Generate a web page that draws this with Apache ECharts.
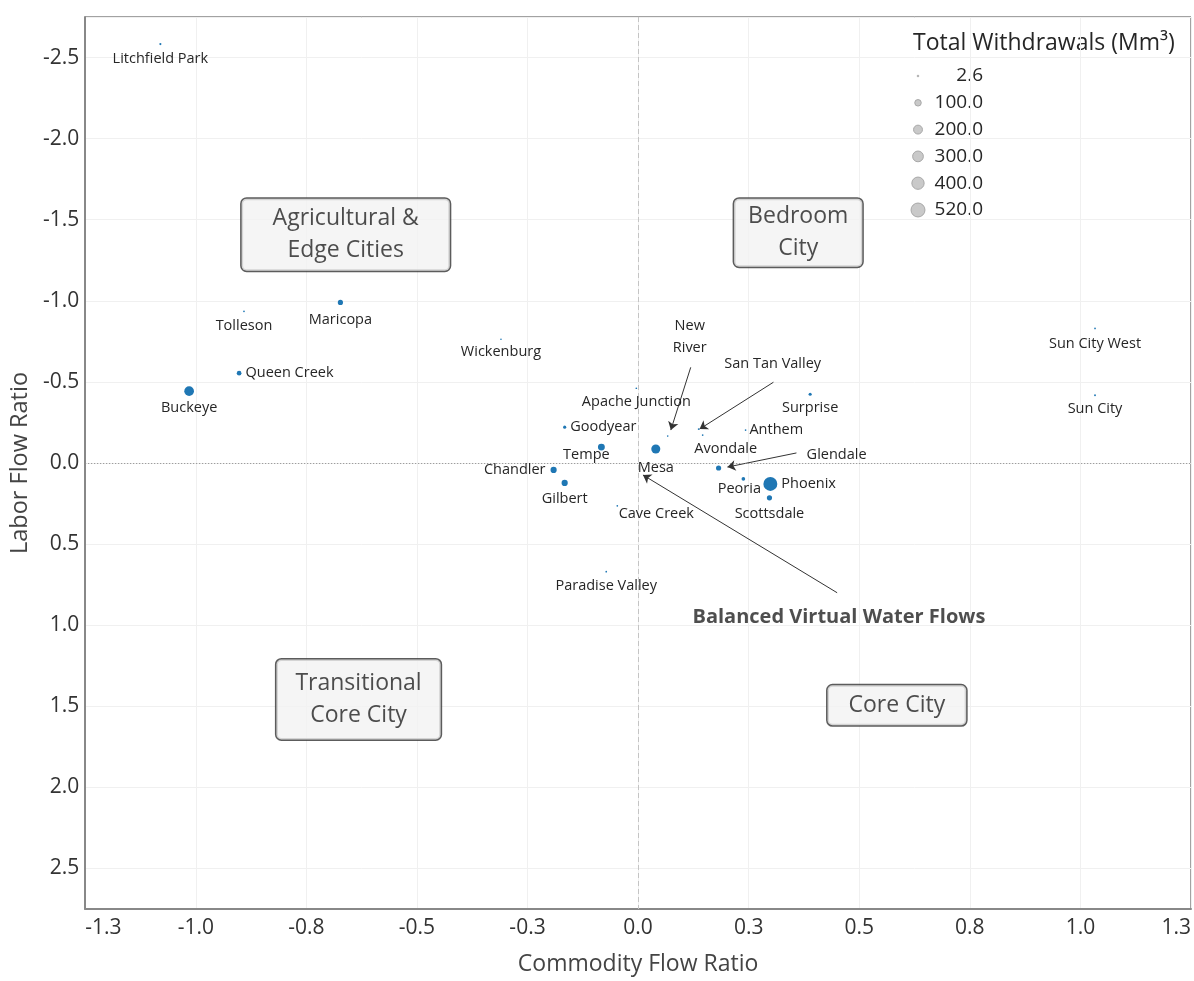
<!DOCTYPE html>
<html>
<head>
<meta charset="utf-8">
<script src="https://cdn.jsdelivr.net/npm/echarts@6/dist/echarts.min.js"></script>
<style>
html,body{margin:0;padding:0;background:#fff;}
#chart{width:1194px;height:981px;}
</style>
</head>
<body>
<div id="chart"></div>
<script>
// ---------- data ----------
const cities = ['Litchfield Park','Tolleson','Maricopa','Queen Creek','Buckeye','Wickenburg','Apache Junction','Goodyear','Tempe','Chandler','Gilbert','Cave Creek','Mesa','New River','San Tan Valley','Avondale','Anthem','Surprise','Glendale','Peoria','Phoenix','Scottsdale','Paradise Valley','Sun City West','Sun City'];
const commodityFlowRatio = [-1.080,-0.891,-0.673,-0.902,-1.015,-0.310,-0.004,-0.166,-0.083,-0.191,-0.166,-0.047,0.040,0.067,0.137,0.146,0.243,0.389,0.182,0.238,0.299,0.297,-0.072,1.033,1.033];
const laborFlowRatio = [-2.583,-0.935,-0.990,-0.554,-0.443,-0.763,-0.461,-0.221,-0.098,0.043,0.123,0.264,-0.086,-0.166,-0.209,-0.172,-0.203,-0.424,0.031,0.098,0.129,0.215,0.670,-0.830,-0.418];
const totalWithdrawals = [6,3,60,47,240,2.6,3,18,115,90,90,3,205,2.6,4,3,3,18,60,26,520,60,3,3,4];

const xTicks = [-1.25,-1.0,-0.75,-0.5,-0.25,0,0.25,0.5,0.75,1.0,1.25];
const xTickLabels = ['-1.3','-1.0','-0.8','-0.5','-0.3','0.0','0.3','0.5','0.8','1.0','1.3'];
const yTicks = [-2.5,-2.0,-1.5,-1.0,-0.5,0,0.5,1.0,1.5,2.0,2.5];
const yTickLabels = ['-2.5','-2.0','-1.5','-1.0','-0.5','0.0','0.5','1.0','1.5','2.0','2.5'];

const legendValues = [2.6,100,200,300,400,520];
const legendLabels = ['2.6','100.0','200.0','300.0','400.0','520.0'];
const legendTitle = 'Total Withdrawals (Mm³)';

const quadrantNames = ['Agricultural &\nEdge Cities','Bedroom\nCity','Transitional\nCore City','Core City'];
const quadrantX = [-0.661,0.362,-0.632,0.585];
const quadrantY = [-1.408,-1.42,1.458,1.494];

const annotationText = ['Balanced Virtual Water Flows'];
const annotationX = [0.454];
const annotationY = [0.953];

// arrows: from (x, y) to (x, y) in data units
const arrowFromX = [0.119,0.306,0.358,0.450];
const arrowFromY = [-0.590,-0.498,-0.062,0.800];
const arrowToX = [0.074,0.139,0.202,0.011];
const arrowToY = [-0.203,-0.209,0.025,0.074];

// ---------- styling / layout ----------
const FONT = "'Open Sans', 'Noto Sans', sans-serif";
const DOT = '#1f77b4';
const TXT = '#262626';
function sizeFn(v){ return 0.58*Math.sqrt(v) + 0.7; }

const labelLayout = {
  'Litchfield Park':{o:[0,15]}, 'Tolleson':{o:[0,15]}, 'Maricopa':{o:[0,17]},
  'Queen Creek':{p:'right',d:4}, 'Buckeye':{o:[0,17]}, 'Wickenburg':{o:[0,13]},
  'Apache Junction':{o:[0,14]}, 'Goodyear':{p:'right',d:4}, 'Tempe':{o:[-15,8]},
  'Chandler':{p:'left',d:5}, 'Gilbert':{o:[0,16]}, 'Cave Creek':{o:[39,8]},
  'Mesa':{o:[0,19]}, 'New River':{o:[22,-99],t:'New\nRiver'}, 'San Tan Valley':{o:[74,-65]},
  'Avondale':{o:[23,14]}, 'Anthem':{p:'right',d:3}, 'Surprise':{o:[0,14]},
  'Glendale':{o:[118,-13]}, 'Peoria':{o:[-4,10]}, 'Phoenix':{p:'right',d:4},
  'Scottsdale':{o:[0,16]}, 'Paradise Valley':{o:[0,14]}, 'Sun City West':{o:[0,15]}, 'Sun City':{o:[0,14]}
};
const quadPad = [[4,31],[2,14],[8,19],[4,21]];

function pointLabel(name){
  const L = labelLayout[name] || {o:[0,14]};
  const base = {show:true, color:TXT, fontSize:14.5, fontFamily:FONT, lineHeight:22,
    formatter: L.t || name};
  if (L.p) { base.position = L.p; base.distance = L.d; }
  else { base.position = 'inside'; base.offset = L.o; base.align='center'; base.verticalAlign='middle'; }
  return base;
}

const pointData = cities.map((c,i)=>({
  name:c,
  value:[commodityFlowRatio[i], laborFlowRatio[i], totalWithdrawals[i]],
  symbolSize: sizeFn(totalWithdrawals[i]),
  label: pointLabel(c)
}));

const quadData = quadrantNames.map((n,i)=>({
  name:n, value:[quadrantX[i], quadrantY[i]],
  label:{padding:quadPad[i]}
}));

const arrowData = arrowFromX.map((x,i)=>({coords:[[x, arrowFromY[i]],[arrowToX[i], arrowToY[i]]]}));

function tickFmt(ticks, labels){
  return function(v){
    const i = ticks.findIndex(t=>Math.abs(t-v)<1e-6);
    return i>=0 ? labels[i] : '';
  };
}

// legend graphic
const legX = 918, legLabelRight = 983, legTop = 76, legStep = 26.8;
const graphics = [{
  type:'text', left:913, top:32,
  style:{text:legendTitle, fontSize:23, fontFamily:FONT, fill:TXT}
}];
legendValues.forEach((v,i)=>{
  const cy = legTop + i*legStep;
  graphics.push({type:'circle', shape:{cx:legX, cy:cy, r:sizeFn(v)/2},
    style:{fill:'#c9c9c9', stroke:'#a8a8a8', lineWidth:1}});
  graphics.push({type:'text', x:legLabelRight, y:cy,
    style:{text:legendLabels[i], fontSize:19, fontFamily:FONT, fill:TXT, align:'right', verticalAlign:'middle'}});
});

const option = {
  animation:false,
  backgroundColor:'#fff',
  grid:{left:84, top:17, width:1109, bottom:69, show:true, borderColor:'#444', borderWidth:1, containLabel:false},
  xAxis:{
    type:'value', min:-1.25, max:1.25, interval:0.25,
    name:'Commodity Flow Ratio', nameLocation:'middle', nameGap:44,
    nameTextStyle:{fontSize:23, color:'#444', fontFamily:FONT},
    axisLine:{show:true, onZero:false, lineStyle:{color:'#888', width:2}},
    axisTick:{show:false},
    axisLabel:{fontSize:21, color:'#333', fontFamily:FONT, margin:9,
      formatter:tickFmt(xTicks,xTickLabels), alignMinLabel:'left', alignMaxLabel:'right'},
    splitLine:{show:true, lineStyle:{color:'#f0f0f0', width:1}}
  },
  yAxis:{
    type:'value', min:-2.75, max:2.75, splitNumber:11, inverse:true,
    name:'Labor Flow Ratio', nameLocation:'middle', nameGap:50,
    nameTextStyle:{fontSize:23.5, color:'#444', fontFamily:FONT},
    axisLine:{show:true, onZero:false, lineStyle:{color:'#888', width:2}},
    axisTick:{show:false},
    axisLabel:{fontSize:21, color:'#333', fontFamily:FONT, margin:6,
      formatter:tickFmt(yTicks,yTickLabels), showMinLabel:false, showMaxLabel:false},
    splitLine:{show:true, lineStyle:{color:'#f0f0f0', width:1}}
  },
  graphic: graphics,
  series:[
    {
      type:'scatter', name:'cities', data:pointData, z:5,
      itemStyle:{color:DOT, opacity:1},
      markLine:{
        silent:true, symbol:'none', label:{show:false},
        data:[
          {xAxis:0, lineStyle:{color:'#c4c4c4', type:[5,3], width:1}},
          {yAxis:0, lineStyle:{color:'#8a8a8a', type:[1,2], width:1}}
        ]
      }
    },
    {
      type:'lines', coordinateSystem:'cartesian2d', data:arrowData, z:4,
      symbol:['none','arrow'], symbolSize:8,
      lineStyle:{color:'#333', width:1, opacity:1}
    },
    {
      type:'scatter', name:'quadrants', symbolSize:0, z:6,
      data:quadData,
      label:{show:true, position:'inside', formatter:'{b}', fontSize:23, color:'#222', fontFamily:FONT,
        lineHeight:32, align:'center', verticalAlign:'middle',
        backgroundColor:'#f2f2f2', borderColor:'#333', borderWidth:1.5, borderRadius:5}
    },
    {
      type:'scatter', name:'annotation', symbolSize:0, z:6,
      data:annotationText.map((t,i)=>({name:t, value:[annotationX[i], annotationY[i]]})),
      label:{show:true, position:'inside', formatter:'{b}', fontSize:20, fontWeight:'bold', color:'#222', fontFamily:FONT}
    }
  ]
};

const chart = echarts.init(document.getElementById('chart'), null, {renderer:'canvas'});
chart.setOption(option);
</script>
</body>
</html>
